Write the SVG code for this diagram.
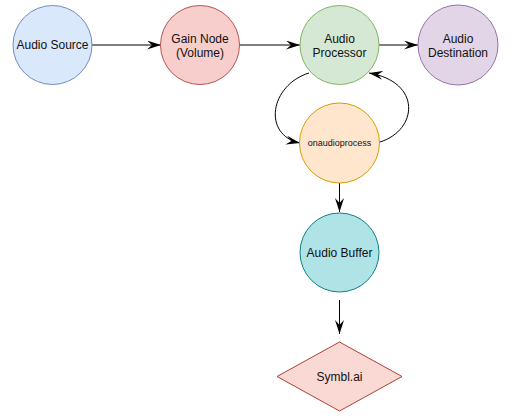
<svg xmlns="http://www.w3.org/2000/svg" width="512" height="418" viewBox="0 0 512 418">
<defs>
<marker id="arr" viewBox="0 0 14 9" refX="14" refY="4.5" markerWidth="14" markerHeight="9" markerUnits="userSpaceOnUse" orient="auto">
<path d="M0,0 L14,4.5 L0,9 L5,4.5 Z" fill="#000"/>
</marker>
</defs>
<style>
text{font-family:"Liberation Sans",Arial,sans-serif;font-size:12px;fill:#111;text-anchor:middle}
.e{fill:none;stroke:#000;stroke-width:1;marker-end:url(#arr)}
</style>
<rect width="512" height="418" fill="#fff"/>
<g id="connectors">
<path class="e" d="M92,45 L161,45"/>
<path class="e" d="M239,45 L300,45"/>
<path class="e" d="M379,45 L418,45"/>
<path class="e" d="M309,73 C270,85 262,135 300,143"/>
<path class="e" d="M380,142 C418,130 422,82 369,73"/>
<path class="e" d="M339.5,183 L339.5,212"/>
<path class="e" d="M339.5,300 L339.5,334"/>
</g>
<g id="audio-source">
<circle cx="52.5" cy="45" r="39.5" fill="#dae8fc" stroke="#6c8ebf"/>
<text x="52.5" y="49">Audio Source</text>
</g>
<g id="gain-node">
<circle cx="200" cy="45" r="39.5" fill="#f8cecc" stroke="#b85450"/>
<text x="200" y="43">Gain Node</text>
<text x="200" y="57">(Volume)</text>
</g>
<g id="audio-processor">
<circle cx="339.5" cy="45" r="39.5" fill="#d5e8d4" stroke="#82b366"/>
<text x="339.5" y="43">Audio</text>
<text x="339.5" y="57">Processor</text>
</g>
<g id="audio-destination">
<circle cx="458" cy="45" r="40" fill="#e1d5e7" stroke="#9673a6"/>
<text x="458" y="43">Audio</text>
<text x="458" y="57">Destination</text>
</g>
<g id="onaudioprocess">
<circle cx="339.5" cy="143" r="40" fill="#ffe6cc" stroke="#d79b00"/>
<text x="339.5" y="146" style="font-size:9px">onaudioprocess</text>
</g>
<g id="audio-buffer">
<circle cx="339.5" cy="252.5" r="39.5" fill="#b0e3e6" stroke="#0e8088"/>
<text x="339.5" y="256.5">Audio Buffer</text>
</g>
<g id="symbl-ai">
<polygon points="339.5,342 402,376.5 339.5,411 277,376.5" fill="#fad9d5" stroke="#ae4132"/>
<text x="339.5" y="380.5">Symbl.ai</text>
</g>
</svg>
